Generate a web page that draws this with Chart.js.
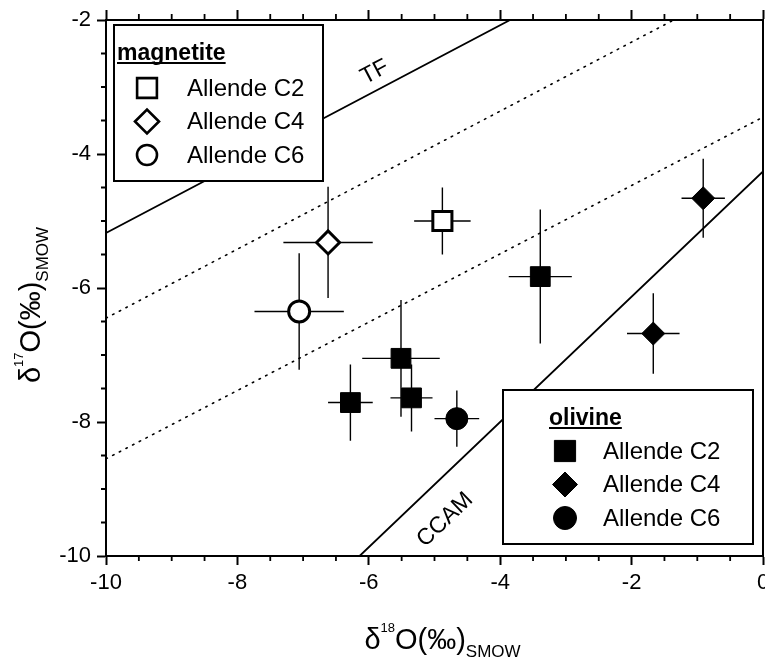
<!DOCTYPE html>
<html>
<head>
<meta charset="utf-8">
<script src="https://cdn.jsdelivr.net/npm/chart.js@4"></script>
<style>
  body { margin: 0; background: #fff; }
  #wrap { width: 765px; height: 662px; }
</style>
</head>
<body>
<div id="wrap"><canvas id="oxygenChart" width="765" height="662"></canvas></div>
<script>
// axis ranges and tick labels
const xTicks = [-10, -8, -6, -4, -2, 0];
const yTicks = [-10, -8, -6, -4, -2];

// magnetite (open markers)
const magC2X = [-4.88], magC2Y = [-5.00], magC2XErr = [0.43], magC2YErr = [0.50];
const magC4X = [-6.62], magC4Y = [-5.32], magC4XErr = [0.68], magC4YErr = [0.83];
const magC6X = [-7.06], magC6Y = [-6.35], magC6XErr = [0.68], magC6YErr = [0.87];

// olivine (filled markers)
const olC2X = [-6.28, -5.51, -5.35, -3.39], olC2Y = [-7.71, -7.05, -7.64, -5.83];
const olC2XErr = [0.34, 0.59, 0.32, 0.48], olC2YErr = [0.57, 0.87, 0.50, 1.00];
const olC4X = [-0.91, -1.67], olC4Y = [-4.66, -6.68];
const olC4XErr = [0.33, 0.40], olC4YErr = [0.59, 0.60];
const olC6X = [-4.66], olC6Y = [-7.95], olC6XErr = [0.34], olC6YErr = [0.42];

// reference lines (end points)
const tfX = [-10, -3.85], tfY = [-5.18, -2];
const ccamX = [-6.14, 0], ccamY = [-10, -4.26];
const dot1X = [-10, -1.36], dot1Y = [-6.45, -2];
const dot2X = [-10, 0], dot2Y = [-8.55, -3.45];

const lineLabels = ['TF', 'CCAM'];
const lineLabelX = [-5.91, -4.84];
const lineLabelY = [-2.78, -9.46];

const FONT = '"Liberation Sans", Arial, Helvetica, sans-serif';

function pts(xs, ys, xe, ye) {
    return xs.map((x, i) => ({ x: x, y: ys[i], xe: xe ? xe[i] : 0, ye: ye ? ye[i] : 0 }));
}

function lineSet(xs, ys, dash) {
    return {
        data: pts(xs, ys),
        showLine: true,
        borderColor: '#000',
        borderWidth: dash ? 1.6 : 1.8,
        borderDash: dash ? [1.5, 6] : [],
        borderCapStyle: 'round',
        pointRadius: 0,
        fill: false,
        errorBars: false
    };
}

function markerSet(label, xs, ys, xe, ye, style, r, filled) {
    return {
        label: label,
        data: pts(xs, ys, xe, ye),
        pointStyle: style,
        pointRadius: r,
        pointHoverRadius: r,
        pointBackgroundColor: filled ? '#000' : '#fff',
        pointBorderColor: '#000',
        pointBorderWidth: filled ? 1 : 3,
        showLine: false,
        errorBars: true
    };
}

function drawMarker(ctx, style, x, y, r, filled) {
    ctx.save();
    ctx.beginPath();
    if (style === 'rect') {
        const s = r * Math.SQRT1_2;
        ctx.rect(x - s, y - s, 2 * s, 2 * s);
    } else if (style === 'rectRot') {
        ctx.moveTo(x - r, y);
        ctx.lineTo(x, y - r);
        ctx.lineTo(x + r, y);
        ctx.lineTo(x, y + r);
        ctx.closePath();
    } else {
        ctx.arc(x, y, r, 0, Math.PI * 2);
    }
    ctx.fillStyle = filled ? '#000' : '#fff';
    ctx.fill();
    ctx.lineWidth = filled ? 1 : 2.6;
    ctx.strokeStyle = '#000';
    ctx.stroke();
    ctx.restore();
}

// mixed size text (super/subscripts), centred on (cx, cy) baseline
function richText(ctx, parts, cx, cy, angle) {
    ctx.save();
    ctx.translate(cx, cy);
    ctx.rotate(angle);
    let total = 0;
    parts.forEach(p => { ctx.font = p.size + 'px ' + FONT; total += ctx.measureText(p.t).width; });
    let x = -total / 2;
    ctx.fillStyle = '#000';
    ctx.textBaseline = 'alphabetic';
    ctx.textAlign = 'left';
    parts.forEach(p => {
        ctx.font = p.size + 'px ' + FONT;
        ctx.fillText(p.t, x, p.dy);
        x += ctx.measureText(p.t).width;
    });
    ctx.restore();
}

function drawLegendBox(ctx, box, title, rows, filled) {
    ctx.save();
    ctx.fillStyle = '#fff';
    ctx.fillRect(box.x, box.y, box.w, box.h);
    ctx.lineWidth = 2;
    ctx.strokeStyle = '#000';
    ctx.strokeRect(box.x, box.y, box.w, box.h);
    ctx.font = 'bold 23px ' + FONT;
    ctx.fillStyle = '#000';
    ctx.textBaseline = 'alphabetic';
    ctx.fillText(title, box.tx, box.ty);
    const tw = ctx.measureText(title).width;
    ctx.fillRect(box.tx, box.ty + 2, tw, 2);
    ctx.font = '24px ' + FONT;
    ctx.textBaseline = 'middle';
    rows.forEach((row, i) => {
        const y = box.ry + i * box.rs;
        drawMarker(ctx, row.style, box.mx, y, row.r, filled);
        ctx.fillStyle = '#000';
        ctx.fillText(row.label, box.lx, y + 1);
    });
    ctx.restore();
}

const errorBarPlugin = {
    id: 'errorBars',
    beforeDatasetsDraw(chart) {
        const ctx = chart.ctx;
        const xs = chart.scales.x, ys = chart.scales.y;
        ctx.save();
        ctx.strokeStyle = '#000';
        ctx.lineWidth = 1.4;
        chart.data.datasets.forEach(ds => {
            if (!ds.errorBars) return;
            ds.data.forEach(p => {
                const px = xs.getPixelForValue(p.x), py = ys.getPixelForValue(p.y);
                ctx.beginPath();
                ctx.moveTo(xs.getPixelForValue(p.x - p.xe), py);
                ctx.lineTo(xs.getPixelForValue(p.x + p.xe), py);
                ctx.moveTo(px, ys.getPixelForValue(p.y + p.ye));
                ctx.lineTo(px, ys.getPixelForValue(p.y - p.ye));
                ctx.stroke();
            });
        });
        ctx.restore();
    }
};

const decorPlugin = {
    id: 'decor',
    afterDraw(chart) {
        const ctx = chart.ctx;
        const a = chart.chartArea;
        const xs = chart.scales.x, ys = chart.scales.y;

        // right frame edge and minor ticks every 0.5
        ctx.save();
        ctx.strokeStyle = '#000';
        ctx.lineWidth = 2;
        ctx.beginPath();
        ctx.moveTo(a.right, a.top - 1); ctx.lineTo(a.right, a.bottom + 1);
        ctx.stroke();
        ctx.lineWidth = 1.8;
        ctx.beginPath();
        for (let v = -9.5; v < 0; v += 0.5) {
            if (xTicks.includes(v)) continue;
            const px = xs.getPixelForValue(v);
            ctx.moveTo(px, a.bottom); ctx.lineTo(px, a.bottom + 5);
            ctx.moveTo(px, a.top); ctx.lineTo(px, a.top - 6);
        }
        for (let v = -9.5; v < -2; v += 0.5) {
            if (yTicks.includes(v)) continue;
            const py = ys.getPixelForValue(v);
            ctx.moveTo(a.left, py); ctx.lineTo(a.left - 5, py);
        }
        ctx.stroke();
        ctx.restore();

        // line labels, rotated along their lines
        const slopes = [[tfX, tfY], [ccamX, ccamY]].map(([lx, ly]) => {
            const dx = xs.getPixelForValue(lx[1]) - xs.getPixelForValue(lx[0]);
            const dy = ys.getPixelForValue(ly[1]) - ys.getPixelForValue(ly[0]);
            return Math.atan2(dy, dx);
        });
        lineLabels.forEach((t, i) => {
            ctx.save();
            ctx.translate(xs.getPixelForValue(lineLabelX[i]), ys.getPixelForValue(lineLabelY[i]));
            ctx.rotate(slopes[i]);
            ctx.font = '23px ' + FONT;
            ctx.fillStyle = '#000';
            ctx.textAlign = 'center';
            ctx.textBaseline = 'middle';
            ctx.fillText(t, 0, 0);
            ctx.restore();
        });

        // legends
        drawLegendBox(ctx,
            { x: 114, y: 25, w: 209, h: 156, tx: 117, ty: 60, mx: 147, lx: 187, ry: 88, rs: 33.5 },
            'magnetite',
            [{ style: 'rect', r: 14, label: 'Allende C2' },
             { style: 'rectRot', r: 12, label: 'Allende C4' },
             { style: 'circle', r: 10, label: 'Allende C6' }], false);
        drawLegendBox(ctx,
            { x: 503, y: 390, w: 250, h: 154, tx: 549, ty: 425, mx: 565, lx: 603, ry: 451, rs: 33.5 },
            'olivine',
            [{ style: 'rect', r: 15, label: 'Allende C2' },
             { style: 'rectRot', r: 12.5, label: 'Allende C4' },
             { style: 'circle', r: 11.5, label: 'Allende C6' }], true);

        // axis titles
        const xc = (a.left + a.right) / 2 + 8;
        richText(ctx, [
            { t: 'δ', size: 29, dy: 0 },
            { t: '18', size: 13, dy: -17 },
            { t: 'O(‰)', size: 29, dy: 0 },
            { t: 'SMOW', size: 17, dy: 8 }
        ], xc, a.bottom + 93, 0);
        const yc = (a.top + a.bottom) / 2 + 17;
        richText(ctx, [
            { t: 'δ', size: 29, dy: 0 },
            { t: '17', size: 13, dy: -17 },
            { t: 'O(‰)', size: 29, dy: 0 },
            { t: 'SMOW', size: 17, dy: 8 }
        ], 40, yc, -Math.PI / 2);
    }
};

const ctx = document.getElementById('oxygenChart').getContext('2d');
const oxygenChart = new Chart(ctx, {
    type: 'scatter',
    data: {
        datasets: [
            lineSet(tfX, tfY, false),
            lineSet(ccamX, ccamY, false),
            lineSet(dot1X, dot1Y, true),
            lineSet(dot2X, dot2Y, true),
            markerSet('magnetite Allende C2', magC2X, magC2Y, magC2XErr, magC2YErr, 'rect', 13.5, false),
            markerSet('magnetite Allende C4', magC4X, magC4Y, magC4XErr, magC4YErr, 'rectRot', 11.5, false),
            markerSet('magnetite Allende C6', magC6X, magC6Y, magC6XErr, magC6YErr, 'circle', 10.5, false),
            markerSet('olivine Allende C2', olC2X, olC2Y, olC2XErr, olC2YErr, 'rect', 14, true),
            markerSet('olivine Allende C4', olC4X, olC4Y, olC4XErr, olC4YErr, 'rectRot', 11.5, true),
            markerSet('olivine Allende C6', olC6X, olC6Y, olC6XErr, olC6YErr, 'circle', 11, true)
        ]
    },
    options: {
        responsive: false,
        animation: false,
        layout: { padding: { left: 0, top: 0, bottom: 0, right: 2 }, autoPadding: false },
        plugins: {
            legend: { display: false },
            tooltip: { enabled: false }
        },
        scales: {
            x: {
                type: 'linear',
                position: 'bottom',
                min: -10,
                max: 0,
                afterBuildTicks: (scale) => { scale.ticks = xTicks.map(v => ({ value: v })); },
                ticks: { color: '#000', font: { family: FONT, size: 22 }, padding: 5, autoSkip: false, maxRotation: 0 },
                grid: { drawOnChartArea: false, tickLength: 9, tickWidth: 2, tickColor: '#000' },
                border: { color: '#000', width: 2 },
                afterFit: (scale) => { scale.height = 106; scale.paddingLeft = 0; scale.paddingRight = 0; }
            },
            x2: {
                type: 'linear',
                position: 'top',
                min: -10,
                max: 0,
                afterBuildTicks: (scale) => { scale.ticks = xTicks.map(v => ({ value: v })); },
                ticks: { display: false },
                grid: { drawOnChartArea: false, tickLength: 10, tickWidth: 2, tickColor: '#000' },
                border: { color: '#000', width: 2 },
                afterFit: (scale) => { scale.height = 20; scale.paddingLeft = 0; scale.paddingRight = 0; }
            },
            y: {
                type: 'linear',
                position: 'left',
                min: -10,
                max: -2,
                afterBuildTicks: (scale) => { scale.ticks = yTicks.map(v => ({ value: v })); },
                ticks: { color: '#000', font: { family: FONT, size: 22 }, padding: 6, autoSkip: false },
                grid: { drawOnChartArea: false, tickLength: 9, tickWidth: 2, tickColor: '#000' },
                border: { color: '#000', width: 2 },
                afterFit: (scale) => { scale.width = 106; scale.paddingTop = 0; scale.paddingBottom = 0; }
            }
        }
    },
    plugins: [errorBarPlugin, decorPlugin]
});
</script>
</body>
</html>
